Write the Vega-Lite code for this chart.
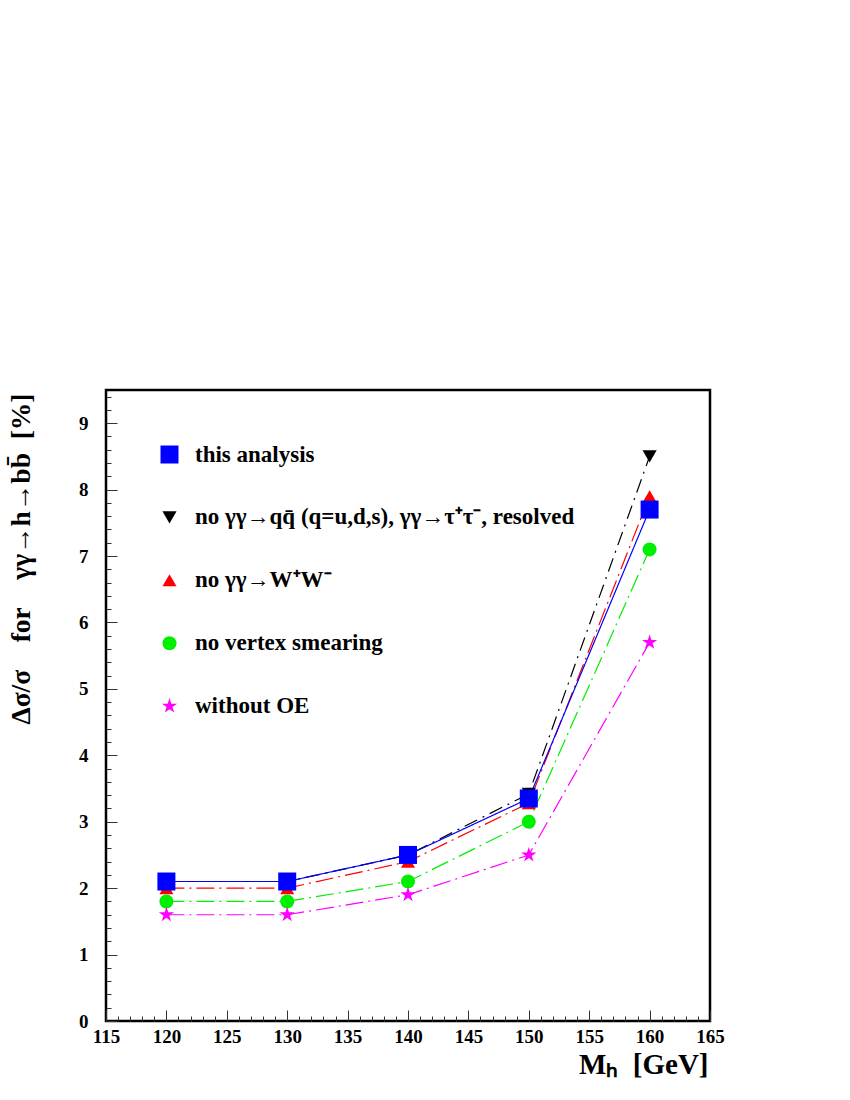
{
  "$schema": "https://vega.github.io/schema/vega-lite/v6.json",
  "autosize": "none",
  "width": 604,
  "height": 631,
  "padding": {"left": 106, "top": 390, "right": 140, "bottom": 79},
  "background": "white",
  "config": {
    "view": {"stroke": "black", "strokeWidth": 2.5},
    "font": "Liberation Serif",
    "axis": {"grid": false, "domain": false, "labelFont": "Liberation Serif", "labelFontWeight": "bold", "labelFontSize": 19, "labelColor": "black", "tickColor": "#333", "tickWidth": 1, "titleFont": "Liberation Serif", "titleFontWeight": "bold", "titleColor": "black"}
  },
  "data": {
    "values": [
      {"x": 120, "y": 2.1, "s": "no γγ→qq̄ (q=u,d,s), γγ→τ⁺τ⁻, resolved"},
      {"x": 130, "y": 2.1, "s": "no γγ→qq̄ (q=u,d,s), γγ→τ⁺τ⁻, resolved"},
      {"x": 140, "y": 2.5, "s": "no γγ→qq̄ (q=u,d,s), γγ→τ⁺τ⁻, resolved"},
      {"x": 150, "y": 3.42, "s": "no γγ→qq̄ (q=u,d,s), γγ→τ⁺τ⁻, resolved"},
      {"x": 160, "y": 8.5, "s": "no γγ→qq̄ (q=u,d,s), γγ→τ⁺τ⁻, resolved"},
      {"x": 120, "y": 2.0, "s": "no γγ→W⁺W⁻"},
      {"x": 130, "y": 2.0, "s": "no γγ→W⁺W⁻"},
      {"x": 140, "y": 2.4, "s": "no γγ→W⁺W⁻"},
      {"x": 150, "y": 3.28, "s": "no γγ→W⁺W⁻"},
      {"x": 160, "y": 7.9, "s": "no γγ→W⁺W⁻"},
      {"x": 120, "y": 1.8, "s": "no vertex smearing"},
      {"x": 130, "y": 1.8, "s": "no vertex smearing"},
      {"x": 140, "y": 2.1, "s": "no vertex smearing"},
      {"x": 150, "y": 3.0, "s": "no vertex smearing"},
      {"x": 160, "y": 7.1, "s": "no vertex smearing"},
      {"x": 120, "y": 1.6, "s": "without OE"},
      {"x": 130, "y": 1.6, "s": "without OE"},
      {"x": 140, "y": 1.9, "s": "without OE"},
      {"x": 150, "y": 2.5, "s": "without OE"},
      {"x": 160, "y": 5.7, "s": "without OE"},
      {"x": 120, "y": 2.1, "s": "\u00a0\u00a0this analysis"},
      {"x": 130, "y": 2.1, "s": "\u00a0\u00a0this analysis"},
      {"x": 140, "y": 2.5, "s": "\u00a0\u00a0this analysis"},
      {"x": 150, "y": 3.35, "s": "\u00a0\u00a0this analysis"},
      {"x": 160, "y": 7.7, "s": "\u00a0\u00a0this analysis"}
    ]
  },
  "layer": [
    {
      "mark": {"type": "line", "strokeWidth": 1.2},
      "encoding": {
        "x": {"field": "x", "type": "quantitative", "scale": {"domain": [115, 165], "nice": false, "zero": false},
          "axis": {"orient": "bottom", "offset": 0, "values": [115, 120, 125, 130, 135, 140, 145, 150, 155, 160, 165], "tickSize": -11, "labelPadding": 17, "labelFlush": false, "labelOverlap": false,
            "title": "Mₕ\u2002[GeV]", "titleFontSize": 29, "titleAnchor": "end", "titleAlign": "right", "titleX": 602, "titleY": 52, "titleBaseline": "alphabetic"}},
        "y": {"field": "y", "type": "quantitative", "scale": {"domain": [0, 9.5], "nice": false},
          "axis": {"orient": "left", "offset": 0, "values": [0, 1, 2, 3, 4, 5, 6, 7, 8, 9], "tickSize": -11, "labelPadding": 29, "labelFlush": false, "labelOverlap": false,
            "title": "Δσ/σ\u2003for\u2003γγ→h→bb̄\u2002[%]", "titleFontSize": 27.5, "titleAngle": 270, "titleAnchor": "end", "titleAlign": "right", "titleBaseline": "middle", "titleX": -85, "titleY": 3}},
        "stroke": {"field": "s", "type": "nominal", "legend": null,
          "scale": {"domain": ["without OE", "no vertex smearing", "no γγ→W⁺W⁻", "no γγ→qq̄ (q=u,d,s), γγ→τ⁺τ⁻, resolved", "\u00a0\u00a0this analysis"], "range": ["#ff00ff", "#00ee00", "#ff0000", "#000000", "#0000ff"]}},
        "strokeDash": {"field": "s", "type": "nominal", "legend": null,
          "scale": {"domain": ["without OE", "no vertex smearing", "no γγ→W⁺W⁻", "no γγ→qq̄ (q=u,d,s), γγ→τ⁺τ⁻, resolved", "\u00a0\u00a0this analysis"], "range": [[18, 5, 2, 5], [18, 5, 2, 5], [18, 5, 2, 5], [14, 6, 2, 6], [1, 0]]}}
      }
    },
    {
      "mark": {"type": "point", "filled": true, "opacity": 1, "strokeWidth": 0},
      "encoding": {
        "x": {"field": "x", "type": "quantitative",
          "axis": {"orient": "bottom", "offset": 0, "values": [116, 117, 118, 119, 121, 122, 123, 124, 126, 127, 128, 129, 131, 132, 133, 134, 136, 137, 138, 139, 141, 142, 143, 144, 146, 147, 148, 149, 151, 152, 153, 154, 156, 157, 158, 159, 161, 162, 163, 164], "tickSize": -5, "labels": false, "title": null}},
        "y": {"field": "y", "type": "quantitative",
          "axis": {"orient": "left", "offset": 0, "values": [0.2, 0.4, 0.6, 0.8, 1.2, 1.4, 1.6, 1.8, 2.2, 2.4, 2.6, 2.8, 3.2, 3.4, 3.6, 3.8, 4.2, 4.4, 4.6, 4.8, 5.2, 5.4, 5.6, 5.8, 6.2, 6.4, 6.6, 6.8, 7.2, 7.4, 7.6, 7.8, 8.2, 8.4, 8.6, 8.8, 9.2, 9.4], "tickSize": -5, "labels": false, "title": null}},
        "fill": {"field": "s", "type": "nominal",
          "scale": {"domain": ["\u00a0\u00a0this analysis", "no γγ→qq̄ (q=u,d,s), γγ→τ⁺τ⁻, resolved", "no γγ→W⁺W⁻", "no vertex smearing", "without OE"], "range": ["#0000ff", "#000000", "#ff0000", "#00ee00", "#ff00ff"]},
          "legend": {"orient": "none", "legendX": 52, "legendY": 53, "title": null, "padding": 0, "labelFont": "Liberation Serif", "labelFontWeight": "bold", "labelFontSize": 23, "labelColor": "black", "labelLimit": 600, "labelOffset": 14, "rowPadding": 38.9, "symbolStrokeWidth": 0}},
        "shape": {"field": "s", "type": "nominal",
          "scale": {"domain": ["\u00a0\u00a0this analysis", "no γγ→qq̄ (q=u,d,s), γγ→τ⁺τ⁻, resolved", "no γγ→W⁺W⁻", "no vertex smearing", "without OE"], "range": ["square", "triangle-down", "triangle-up", "circle", "M0,-1L0.2245,-0.309L0.9511,-0.309L0.3633,0.118L0.5878,0.809L0,0.382L-0.5878,0.809L-0.3633,0.118L-0.9511,-0.309L-0.2245,-0.309Z"]},
          "legend": {"orient": "none", "legendX": 52, "legendY": 53, "title": null, "padding": 0, "labelFont": "Liberation Serif", "labelFontWeight": "bold", "labelFontSize": 23, "labelColor": "black", "labelLimit": 600, "labelOffset": 14, "rowPadding": 38.9, "symbolStrokeWidth": 0}},
        "size": {"field": "s", "type": "nominal",
          "scale": {"type": "ordinal", "domain": ["\u00a0\u00a0this analysis", "no γγ→qq̄ (q=u,d,s), γγ→τ⁺τ⁻, resolved", "no γγ→W⁺W⁻", "no vertex smearing", "without OE"], "range": [324, 200, 196, 196, 256]},
          "legend": {"orient": "none", "legendX": 52, "legendY": 53, "title": null, "padding": 0, "labelFont": "Liberation Serif", "labelFontWeight": "bold", "labelFontSize": 23, "labelColor": "black", "labelLimit": 600, "labelOffset": 14, "rowPadding": 38.9, "symbolStrokeWidth": 0}}
      }
    }
  ],
  "resolve": {"axis": {"x": "independent", "y": "independent"}}
}
